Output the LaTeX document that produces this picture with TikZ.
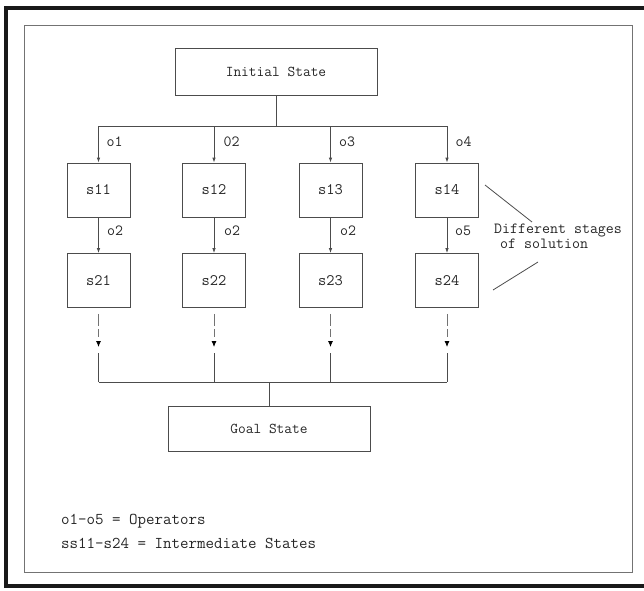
\documentclass[tikz,border=0pt]{standalone}
\usepackage{fontspec}
\usetikzlibrary{arrows.meta}
\tikzset{
  ln/.style={draw=black!70, line width=0.8pt},
  arr/.style={ln, -{Latex[length=5pt,width=3.5pt]}},
  bigbox/.style={ln, rectangle, minimum width=202pt, inner sep=0pt, text=black!85,
    font=\ttfamily\fontsize{15}{18}\selectfont},
  sbox/.style={ln, rectangle, minimum width=63pt, minimum height=54pt, inner sep=0pt,
    text=black!85, font=\ttfamily\fontsize{16}{19}\selectfont},
  lab/.style={inner sep=0pt, text=black!85, font=\ttfamily\fontsize{15.5}{18}\selectfont},
  leg/.style={inner sep=0pt, anchor=west, text=black!85, font=\ttfamily\fontsize{16.5}{19}\selectfont},
  dsh/.style={draw=black!55, line width=0.8pt, dash pattern=on 12pt off 3pt on 8pt off 20pt, shorten <=6pt,
    -{Latex[length=6pt,width=5pt,fill=black,color=black]}}
}
\begin{document}
\begin{tikzpicture}[x=1pt,y=-1pt]
\useasboundingbox (0,0) rectangle (644,590);
% frames
\draw[line width=4pt, black!90] (660,8) -- (6,8) -- (6,586) -- (660,586);
\draw[line width=0.7pt, black!55] (24,25) rectangle (632,572);

% nodes
\node[bigbox, minimum height=47pt] (init) at (276,71.5) {Initial State};
\node[sbox] (s11) at (98.5,190) {s11};
\node[sbox] (s12) at (214,190) {s12};
\node[sbox] (s13) at (330.5,190) {s13};
\node[sbox] (s14) at (447,190) {s14};
\node[sbox] (s21) at (98.5,280.5) {s21};
\node[sbox] (s22) at (214,280.5) {s22};
\node[sbox] (s23) at (330.5,280.5) {s23};
\node[sbox] (s24) at (447,280.5) {s24};
\node[bigbox, minimum height=45pt] (goal) at (269,428.5) {Goal State};

% top bus
\coordinate (tb) at (276,126);
\coordinate (tb1) at (98.5,126);
\coordinate (tb2) at (214,126);
\coordinate (tb3) at (330.5,126);
\coordinate (tb4) at (447,126);
\draw[ln] (init.south) -- (tb);
\draw[ln] (tb1) -- (tb4);
\draw[arr] (tb1) -- (s11.north);
\draw[arr] (tb2) -- (s12.north);
\draw[arr] (tb3) -- (s13.north);
\draw[arr] (tb4) -- (s14.north);

% operator labels
\node[lab] (lo1) at (114.5,142) {o1};
\node[lab] (lo2) at (231.5,142) {02};
\node[lab] (lo3) at (347,142) {o3};
\node[lab] (lo4) at (463.5,142) {o4};

% second stage arrows
\draw[arr] (s11.south) -- (s21.north);
\draw[arr] (s12.south) -- (s22.north);
\draw[arr] (s13.south) -- (s23.north);
\draw[arr] (s14.south) -- (s24.north);
\node[lab] (lp1) at (115,231) {o2};
\node[lab] (lp2) at (232,231) {o2};
\node[lab] (lp3) at (348,231) {o2};
\node[lab] (lp4) at (463,231) {o5};

% dashed continuation
\coordinate (d1) at (98.5,347);
\coordinate (d2) at (214,347);
\coordinate (d3) at (330.5,347);
\coordinate (d4) at (447,347);
\draw[dsh] (s21.south) -- (d1);
\draw[dsh] (s22.south) -- (d2);
\draw[dsh] (s23.south) -- (d3);
\draw[dsh] (s24.south) -- (d4);
\coordinate (e1) at (98.5,353);
\coordinate (e2) at (214,353);
\coordinate (e3) at (330.5,353);
\coordinate (e4) at (447,353);
\coordinate (b1) at (98.5,382);
\coordinate (b2) at (214,382);
\coordinate (b3) at (330.5,382);
\coordinate (b4) at (447,382);
\coordinate (bc) at (269,382);
\draw[ln] (e1) -- (b1);
\draw[ln] (e2) -- (b2);
\draw[ln] (e3) -- (b3);
\draw[ln] (e4) -- (b4);
\draw[ln] (b1) -- (b4);
\draw[ln] (bc) -- (goal.north);

% annotation
\node[lab, align=left, anchor=north west, font=\ttfamily\fontsize{15.5}{15}\selectfont] (diff) at (494,224)
  {Different stages\\\hspace*{6pt}of solution};
\coordinate (pa1) at (485,185);
\coordinate (pa2) at (532,222);
\coordinate (pb1) at (538,262);
\coordinate (pb2) at (493,290);
\draw[ln] (pa1) -- (pa2);
\draw[ln] (pb1) -- (pb2);

% legend
\node[leg] (leg1) at (61,521) {o1-o5 = Operators};
\node[leg] (leg2) at (61,543) {ss11-s24 = Intermediate States};
\end{tikzpicture}
\end{document}
